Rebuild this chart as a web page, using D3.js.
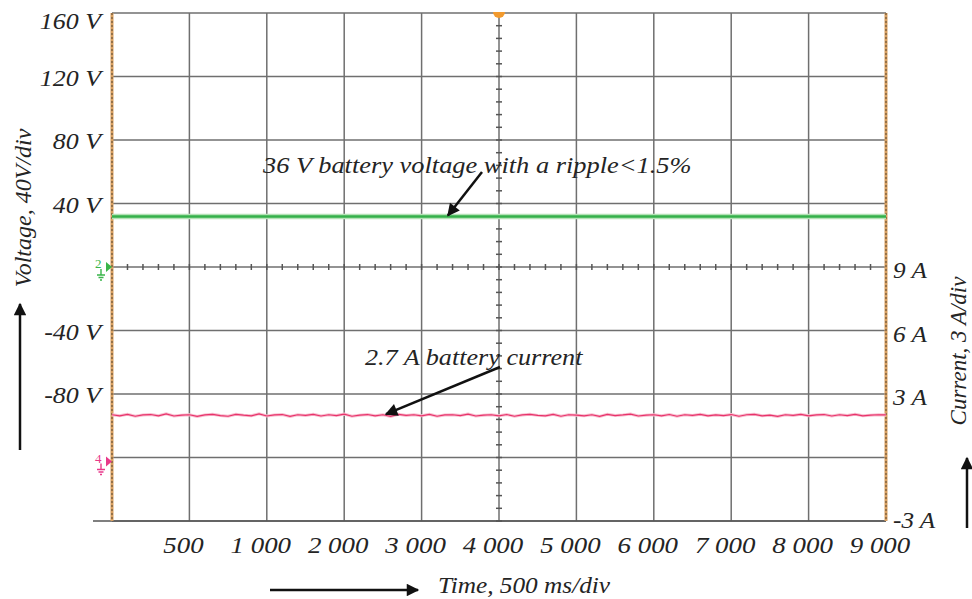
<!DOCTYPE html>
<html>
<head>
<meta charset="utf-8">
<script src="https://cdn.jsdelivr.net/npm/d3@7"></script>
<style>
  html, body { margin: 0; padding: 0; background: #fff; }
  text { font-family: "Liberation Serif", "DejaVu Serif", serif; font-style: italic; fill: #242424; }
</style>
</head>
<body>
<svg id="chart" width="972" height="599"></svg>
<script>
// ---------- data ----------
const timeTickDivs = [1, 2, 3, 4, 5, 6, 7, 8, 9, 10];
const timeTickLabels = ["500", "1 000", "2 000", "3 000", "4 000", "5 000", "6 000", "7 000", "8 000", "9 000"];
const voltTicks = [160, 120, 80, 40, -40, -80];
const voltTickLabels = ["160 V", "120 V", "80 V", "40 V", "-40 V", "-80 V"];
const currTicks = [9, 6, 3, -3];
const currTickLabels = ["9 A", "6 A", "3 A", "-3 A"];
const msPerDiv = 500;
// battery voltage samples (V), every 125 ms
const voltage = [31.8,31.8,31.8,31.8,31.8,31.8,31.8,31.8,31.8,31.8,
                 31.8,31.8,31.8,31.8,31.8,31.8,31.8,31.8,31.8,31.8,
                 31.8,31.8,31.8,31.8,31.8,31.8,31.8,31.8,31.8,31.8,
                 31.8,31.8,31.8,31.8,31.8,31.8,31.8,31.8,31.8,31.8,31.8];
const voltageStepMs = 125;
// battery current samples (A), every 50 ms
const current = [2.02,1.97,2.04,1.95,2.01,2.03,1.97,2.06,1.96,2.00,
                 2.02,1.94,2.01,2.04,1.98,1.95,2.04,2.00,1.97,2.06,
                 1.96,2.01,2.03,1.94,2.02,1.99,2.04,1.96,2.02,1.98,
                 2.05,1.95,2.00,2.03,1.97,2.02,1.94,2.04,1.99,2.02,
                 1.97,2.04,1.95,2.01,2.02,1.98,2.05,1.96,2.00,2.02,
                 1.97,2.03,1.95,2.01,2.04,1.99,1.97,2.04,1.95,2.02,
                 2.00,1.97,2.02,1.94,2.04,1.98,2.01,2.05,1.96,2.00,
                 2.02,1.97,2.03,1.95,2.02,1.99,2.04,1.97,2.01,1.98,
                 2.03,1.95,2.02,2.04,1.97,2.00,1.94,2.02,1.99,2.04,
                 1.97,2.01,2.03,1.96,2.02,1.98,2.04,1.97,2.00,2.02,2.01];
const currentStepMs = 50;

// ---------- layout ----------
const L = 112, R = 886, T = 13, B = 521;
const svg = d3.select("#chart");

const x = d3.scaleLinear().domain([0, 10 * msPerDiv]).range([L, R]);
const xDiv = d3.scaleLinear().domain([0, 10]).range([L, R]);
const yV = d3.scaleLinear().domain([-160, 160]).range([B, T]);
const yI = d3.scaleLinear().domain([-3, 21]).range([B, T]);

// stretched italic text helper
function stext(sel, px, py, str, anchor, size, sx) {
  return sel.append("text")
    .attr("transform", `translate(${px},${py}) scale(${sx},1)`)
    .attr("text-anchor", anchor).attr("dominant-baseline", "central")
    .attr("font-size", size).text(str);
}

// grid
const g = svg.append("g");
g.selectAll("line.v").data(d3.range(1, 10)).join("line")
  .attr("x1", d => xDiv(d)).attr("x2", d => xDiv(d))
  .attr("y1", T).attr("y2", B)
  .attr("stroke", "#6f6f6f").attr("stroke-width", 1.5);
g.selectAll("line.h").data(d3.range(-160, 161, 40)).join("line")
  .attr("x1", L).attr("x2", R)
  .attr("y1", d => yV(d)).attr("y2", d => yV(d))
  .attr("stroke", "#6f6f6f").attr("stroke-width", 1.5);
// bottom baseline extends to the left
g.append("line").attr("x1", 93).attr("x2", R).attr("y1", B).attr("y2", B)
  .attr("stroke", "#555").attr("stroke-width", 1.5);

// centre cross minor ticks
const minorX = d3.range(0, 51, 1).map(i => i / 5);
g.selectAll("line.mx").data(minorX).join("line")
  .attr("x1", d => xDiv(d)).attr("x2", d => xDiv(d))
  .attr("y1", yV(0) - 3).attr("y2", yV(0) + 3)
  .attr("stroke", "#555").attr("stroke-width", 1.5);
const minorY = d3.range(-20, 21, 1).map(i => i * 8);
g.selectAll("line.my").data(minorY).join("line")
  .attr("x1", xDiv(5) - 3).attr("x2", xDiv(5) + 3)
  .attr("y1", d => yV(d)).attr("y2", d => yV(d))
  .attr("stroke", "#555").attr("stroke-width", 1.5);

// left / right borders (orange with dark dashes)
[L, R].forEach(px => {
  g.append("line").attr("x1", px).attr("x2", px).attr("y1", T).attr("y2", B)
    .attr("stroke", "#d9a060").attr("stroke-width", 3);
  g.append("line").attr("x1", px).attr("x2", px).attr("y1", T).attr("y2", B)
    .attr("stroke", "#6b5438").attr("stroke-width", 1.2).attr("stroke-dasharray", "2,2");
});

// trigger marker at top centre
svg.append("path")
  .attr("d", `M${xDiv(5) - 6},${T - 1} A6,6 0 0,0 ${xDiv(5) + 6},${T - 1} Z`)
  .attr("fill", "#f29a2e");

// channel markers
function chMarker(yPos, label, color) {
  const m = svg.append("g").attr("transform", `translate(${L},${yPos})`);
  m.append("path").attr("d", "M-6,-5 L0,0 L-6,5 Z").attr("fill", color);
  m.append("text").attr("x", -17).attr("y", 1).attr("font-size", 13).style("font-style", "normal")
    .style("fill", color).text(label);
  m.append("path").attr("d", "M-11,2 L-11,8 M-15,8 L-7,8 M-13.5,10.5 L-8.5,10.5 M-12,13 L-10,13")
    .attr("stroke", color).attr("stroke-width", 1.4).attr("fill", "none");
}
chMarker(yV(0), "2", "#39b54a");
chMarker(yI(0) + 4, "4", "#e8398a");

// ---------- series ----------
const vLine = d3.line().x((d, i) => x(i * voltageStepMs)).y(d => yV(d));
svg.append("path").datum(voltage).attr("d", vLine)
  .attr("fill", "none").attr("stroke", "#b5e2b6").attr("stroke-width", 5.5);
svg.append("path").datum(voltage).attr("d", vLine)
  .attr("fill", "none").attr("stroke", "#34b04a").attr("stroke-width", 2.5);

const iLine = d3.line().x((d, i) => x(i * currentStepMs)).y(d => yI(d));
svg.append("path").datum(current).attr("d", iLine)
  .attr("fill", "none").attr("stroke", "#f8bfd0").attr("stroke-width", 3);
svg.append("path").datum(current).attr("d", iLine)
  .attr("fill", "none").attr("stroke", "#e8336b").attr("stroke-width", 1.2);

// ---------- axis labels ----------
voltTicks.forEach((d, i) => stext(svg, 101, yV(d) + (i === 0 ? 8 : 1), voltTickLabels[i], "end", 24, 1.08));
currTicks.forEach((d, i) => stext(svg, 893, yI(d) + (i === 3 ? -1 : 3), currTickLabels[i], "start", 24, 1.05));
timeTickDivs.forEach((d, i) => stext(svg, xDiv(d) - 6, 545, timeTickLabels[i], "middle", 24, 1.12));

// axis titles
svg.append("text").attr("transform", "translate(23,208) rotate(-90)")
  .attr("text-anchor", "middle").attr("dominant-baseline", "central")
  .attr("font-size", 24).text("Voltage, 40V/div");
svg.append("text").attr("transform", "translate(958,351) rotate(-90)")
  .attr("text-anchor", "middle").attr("dominant-baseline", "central")
  .attr("font-size", 23).text("Current, 3 A/div");
stext(svg, 438, 585, "Time, 500 ms/div", "start", 23, 1.1);

// arrows
const defs = svg.append("defs");
defs.append("marker").attr("id", "ah").attr("viewBox", "0 0 10 10")
  .attr("refX", 9).attr("refY", 5).attr("markerWidth", 5.5).attr("markerHeight", 5)
  .attr("markerUnits", "strokeWidth").attr("orient", "auto")
  .append("path").attr("d", "M0,0 L10,5 L0,10 Z").attr("fill", "#111");
function arrow(x1, y1, x2, y2, w) {
  svg.append("line").attr("x1", x1).attr("y1", y1).attr("x2", x2).attr("y2", y2)
    .attr("stroke", "#111").attr("stroke-width", w || 2.5).attr("marker-end", "url(#ah)");
}
arrow(20, 450, 20, 304);
arrow(967, 528, 967, 458);
arrow(270, 590, 418, 590);

// annotations
stext(svg, 263, 165, "36 V battery voltage with a ripple<1.5%", "start", 24, 1.1);
arrow(482, 172, x(2170), yV(31.8) - 1, 2.5);
stext(svg, 365, 357, "2.7 A battery current", "start", 24, 1.09);
arrow(500, 367, x(1770), yI(2.0) - 1, 2.5);
</script>
</body>
</html>
